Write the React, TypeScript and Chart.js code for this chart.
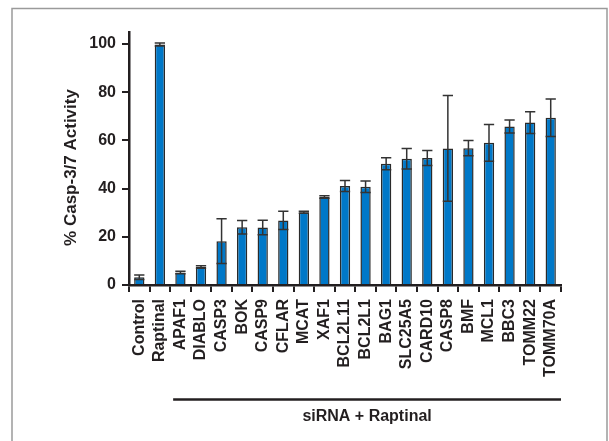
import React, { useEffect, useRef } from "react";
import { Chart, registerables } from "chart.js";

Chart.register(...registerables);

const categories = [
  "Control", "Raptinal", "APAF1", "DIABLO", "CASP3", "BOK", "CASP9", "CFLAR",
  "MCAT", "XAF1", "BCL2L11", "BCL2L1", "BAG1", "SLC25A5", "CARD10", "CASP8",
  "BMF", "MCL1", "BBC3", "TOMM22", "TOMM70A",
];
const activity = [
  3.2, 99.8, 5.2, 7.5, 18.2, 24.0, 23.9, 26.8, 30.2, 36.5, 41.1, 40.8, 50.3,
  52.4, 52.7, 56.7, 56.8, 59.0, 65.8, 67.4, 69.4,
];
const errors = [
  0.9, 0.6, 0.5, 0.5, 9.3, 2.8, 3.0, 3.8, 0.4, 0.5, 2.3, 2.4, 2.5, 4.3, 3.1,
  21.9, 3.2, 7.6, 2.7, 4.5, 7.8,
];
const yTicks = [0, 20, 40, 60, 80, 100];
const yTitle = "% Casp-3/7 Activity";
const groupLabel = "siRNA + Raptinal";
const groupStartIndex = 2;

const FONT = "'Liberation Sans', Arial, sans-serif";
const INK = "#231F20";

const decorPlugin = {
  id: "decor",
  beforeDraw(chart: any) {
    const ctx = chart.ctx;
    ctx.save();
    ctx.fillStyle = "#ffffff";
    ctx.fillRect(0, 0, chart.width, chart.height);
    ctx.strokeStyle = "#9a9a9a";
    ctx.lineWidth = 1.5;
    ctx.strokeRect(12, 8.5, chart.width - 14, chart.height + 20);
    ctx.restore();
  },
  afterDatasetsDraw(chart: any) {
    const ctx = chart.ctx;
    const meta = chart.getDatasetMeta(0);
    const y = chart.scales.y;
    ctx.save();
    ctx.strokeStyle = "#333333";
    ctx.lineWidth = 1.5;
    meta.data.forEach((bar: any, i: number) => {
      const v = activity[i];
      const e = errors[i];
      const top = y.getPixelForValue(v + e);
      const bot = y.getPixelForValue(v - e);
      const half = bar.width / 2;
      ctx.beginPath();
      ctx.moveTo(bar.x, top);
      ctx.lineTo(bar.x, bot);
      ctx.moveTo(bar.x - half, top);
      ctx.lineTo(bar.x + half, top);
      ctx.moveTo(bar.x - half, bot);
      ctx.lineTo(bar.x + half, bot);
      ctx.stroke();
    });
    ctx.restore();
  },
  afterDraw(chart: any) {
    const ctx = chart.ctx;
    const x = chart.scales.x;
    const area = chart.chartArea;
    ctx.save();
    // y-axis title
    ctx.fillStyle = INK;
    ctx.font = `bold 17px ${FONT}`;
    ctx.textAlign = "center";
    ctx.textBaseline = "middle";
    ctx.translate(71, (area.top + area.bottom) / 2 + 9);
    ctx.rotate(-Math.PI / 2);
    ctx.fillText(yTitle, 0, 0);
    ctx.restore();

    // group bracket line
    ctx.save();
    const start =
      (x.getPixelForValue(groupStartIndex - 1) + x.getPixelForValue(groupStartIndex)) / 2 + 3;
    const end = area.right;
    ctx.strokeStyle = INK;
    ctx.lineWidth = 2.5;
    ctx.beginPath();
    ctx.moveTo(start, 399.5);
    ctx.lineTo(end, 399.5);
    ctx.stroke();
    ctx.fillStyle = INK;
    ctx.font = `bold 16px ${FONT}`;
    ctx.textAlign = "center";
    ctx.textBaseline = "middle";
    ctx.fillText(groupLabel, (start + end) / 2, 417);
    ctx.restore();
  },
};

export default function App() {
  const ref = useRef<HTMLCanvasElement>(null);
  useEffect(() => {
    if (!ref.current) return;
    const chart = new Chart(ref.current, {
      type: "bar",
      data: {
        labels: categories,
        datasets: [
          {
            data: activity,
            backgroundColor: "#0078C8",
            borderColor: "#2a2a2a",
            borderWidth: 1.5,
            barPercentage: 0.5,
            categoryPercentage: 1,
          },
        ],
      },
      options: {
        responsive: false,
        animation: false,
        devicePixelRatio: 1,
        layout: { padding: { top: 32, left: 0, right: 48, bottom: 0 } },
        plugins: {
          legend: { display: false },
          tooltip: { enabled: false },
        },
        scales: {
          x: {
            grid: {
              display: true,
              drawOnChartArea: false,
              drawTicks: true,
              tickLength: 7,
              color: INK,
              lineWidth: 2,
              offset: true,
            },
            border: { display: true, color: INK, width: 2.5 },
            ticks: {
              autoSkip: false,
              maxRotation: 90,
              minRotation: 90,
              padding: 7,
              color: INK,
              font: { family: FONT, size: 16, weight: "bold" },
            },
            afterFit(scale: any) {
              scale.height = 441 - 285;
              scale.paddingLeft = 0;
              scale.paddingRight = 0;
            },
          },
          y: {
            min: 0,
            max: 105,
            afterBuildTicks(scale: any) {
              scale.ticks = yTicks.map((v) => ({ value: v }));
            },
            grid: {
              display: true,
              drawOnChartArea: false,
              drawTicks: true,
              tickLength: 7,
              color: INK,
              lineWidth: 2,
            },
            border: { display: true, color: INK, width: 2.5 },
            ticks: {
              padding: 6,
              color: INK,
              font: { family: FONT, size: 16, weight: "bold" },
            },
            afterFit(scale: any) {
              scale.width = 129;
              scale.paddingTop = 0;
              scale.paddingBottom = 0;
            },
          },
        },
      },
      plugins: [decorPlugin],
    });
    return () => chart.destroy();
  }, []);
  return (
    <div style={{ position: "absolute", left: 0, top: 0, width: 609, height: 441 }}>
      <canvas ref={ref} width={609} height={441} style={{ display: "block" }} />
    </div>
  );
}
